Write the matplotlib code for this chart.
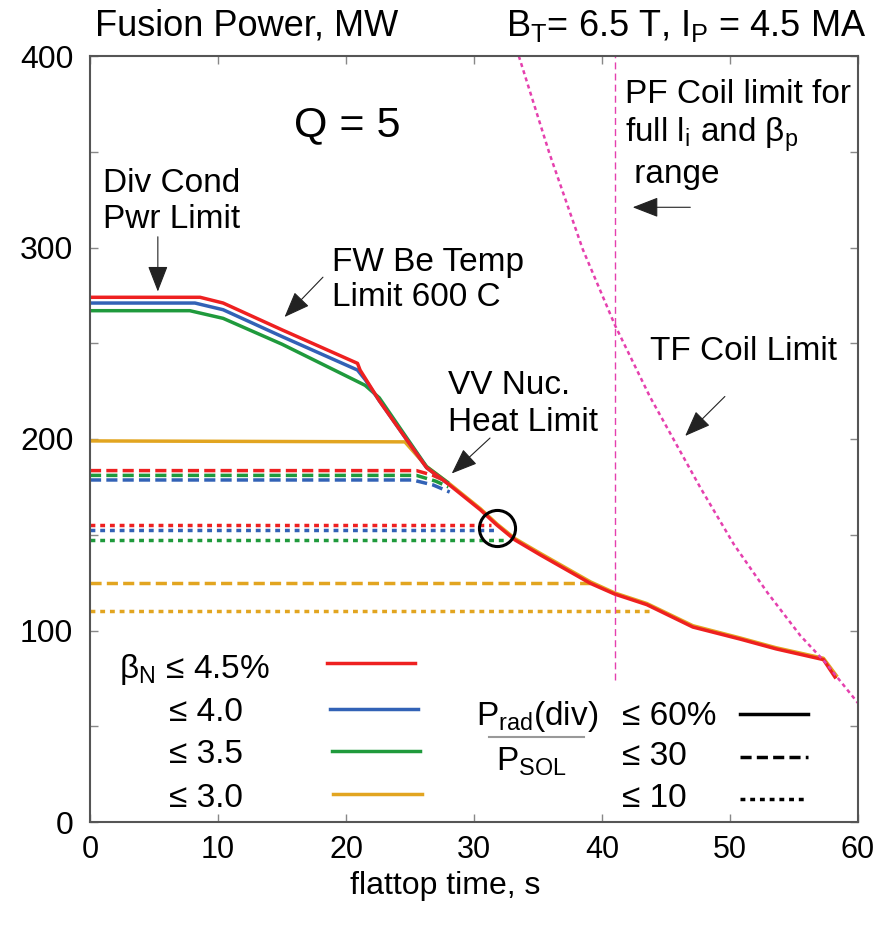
import matplotlib
matplotlib.use('Agg')
import matplotlib.pyplot as plt
from matplotlib import font_manager as fm
from matplotlib.ticker import MultipleLocator

names = {f.name for f in fm.fontManager.ttflist}
BASE = 'Liberation Sans'
NARROW = 'Liberation Sans Narrow' if 'Liberation Sans Narrow' in names else BASE

plt.rcParams['font.family'] = [BASE, 'DejaVu Sans']
plt.rcParams['mathtext.fontset'] = 'custom'
plt.rcParams['mathtext.rm'] = BASE
plt.rcParams['mathtext.it'] = BASE + ':italic'
plt.rcParams['mathtext.bf'] = BASE + ':bold'

# ---------------- data ----------------
# Prad/PSOL <= 60 % (solid)
red_solid_x = [0, 8.6, 10.4, 15, 20.9, 21.1, 22.6, 24.6, 26.3, 27.9, 30.5, 31.8, 33.2, 35.2, 39.1, 41.0, 43.5, 47.1, 50.8, 53.6, 57.3, 58.2]
red_solid_y = [274, 274, 271, 257, 239.5, 236, 220, 201, 185, 177, 163, 155, 147.3, 139.4, 124.6, 119, 113.5, 101.8, 95.5, 90.4, 84.8, 75.7]
blue_solid_x = [0, 8.2, 10.4, 15, 20.9, 21.5, 22.6, 24.6, 26.3, 27.9]
blue_solid_y = [271, 271, 267.5, 253.5, 236, 231, 220, 201, 185, 177]
green_solid_x = [0, 7.8, 10.4, 15, 20.9, 21.5, 22.6, 24.6, 26.3, 27.9]
green_solid_y = [267, 267, 263, 249.5, 230, 228, 221.5, 202, 185.5, 177.5]
orange_solid_x = [0, 24.6, 26.3, 27.9, 30.5, 31.8, 33.2, 35.2, 39.1, 41.0, 43.5, 47.1, 50.8, 53.6, 57.3, 58.3]
orange_solid_y = [199, 198.5, 185.6, 177.6, 163.6, 155.6, 148, 140.2, 125.4, 119.6, 114.1, 102.5, 96.1, 91.0, 85.5, 76.5]
# Prad/PSOL <= 30 % (dashed)
red_dash_x = [0, 25.5, 26.8, 27.8]
red_dash_y = [183.5, 183.5, 181, 178]
green_dash_x = [0, 25.5, 27.0, 28.0]
green_dash_y = [181, 181, 178, 175]
blue_dash_x = [0, 25.2, 26.8, 28.1]
blue_dash_y = [178.6, 178.6, 176, 172.3]
orange_dash_x = [0, 39.1]
orange_dash_y = [124.8, 124.8]
# Prad/PSOL <= 10 % (dotted)
red_dot_x = [0, 31.3]
red_dot_y = [155, 155]
blue_dot_x = [0, 31.8]
blue_dot_y = [152.5, 152.5]
green_dot_x = [0, 32.6]
green_dot_y = [147.3, 147.3]
orange_dot_x = [0, 44.0]
orange_dot_y = [110.2, 110.2]
# limits
tf_x = [33.5, 35.9, 38.5, 41.0, 43.75, 47.7, 50.3, 52.9, 55.5, 57.4, 60.0]
tf_y = [400, 349, 299, 259.6, 222, 174.4, 145, 120, 97.3, 83.7, 62.1]
pf_x = 41.0
pf_y = [74, 400]
circle_xy = (31.8, 153.5)

RED = '#ee2020'
BLUE = '#3262b6'
GREEN = '#1f9a3c'
ORANGE = '#e2a520'
MAG = '#e540ae'

fig = plt.figure(figsize=(8.88, 9.26), dpi=100)
ax = fig.add_axes([90/888, 1-822/926, 768/888, 766/926])

LW = 2.5
dash = (0, (3.2, 1.5))
dot = (0, (1.4, 1.4))

for xs, ys, c in [(orange_dot_x, orange_dot_y, ORANGE), (green_dot_x, green_dot_y, GREEN),
                  (blue_dot_x, blue_dot_y, BLUE), (red_dot_x, red_dot_y, RED)]:
    ax.plot(xs, ys, color=c, lw=LW, ls=dot)
for xs, ys, c in [(orange_dash_x, orange_dash_y, ORANGE), (blue_dash_x, blue_dash_y, BLUE),
                  (green_dash_x, green_dash_y, GREEN), (red_dash_x, red_dash_y, RED)]:
    ax.plot(xs, ys, color=c, lw=LW, ls=dash)
for xs, ys, c in [(orange_solid_x, orange_solid_y, ORANGE), (green_solid_x, green_solid_y, GREEN),
                  (blue_solid_x, blue_solid_y, BLUE), (red_solid_x, red_solid_y, RED)]:
    ax.plot(xs, ys, color=c, lw=LW, solid_joinstyle='round')

ax.plot(tf_x, tf_y, color=MAG, lw=1.8, ls=(0, (1.6, 1.4)), clip_on=True)
ax.plot([pf_x, pf_x], pf_y, color=MAG, lw=1.0, ls=(0, (5, 3)))
ax.plot([circle_xy[0]], [circle_xy[1]], 'o', ms=26, mfc='none', mec='k', mew=2.2)

ax.set_xlim(0, 60)
ax.set_ylim(0, 400)
ax.xaxis.set_major_locator(MultipleLocator(10))
ax.yaxis.set_major_locator(MultipleLocator(100))
ax.yaxis.set_minor_locator(MultipleLocator(50))
ax.tick_params(which='both', direction='in', top=True, right=True, length=6,
               width=1.0, color='#888888')
ax.tick_params(axis='y', labelsize=23, pad=12)
ax.tick_params(axis='x', labelsize=22, pad=9)
for lab in ax.get_xticklabels():
    lab.set_family([NARROW, 'DejaVu Sans'])
for s in ax.spines.values():
    s.set_color('#555555')
    s.set_linewidth(1.5)

# header texts
fig.text(95/888, 1-26/926, 'Fusion Power, MW', fontsize=26, family=[NARROW, 'DejaVu Sans'],
         ha='left', va='center')
fig.text(866/888, 1-26/926, r'B$_{\mathrm{T}}$= 6.5 T, I$_{\mathrm{P}}$ = 4.5 MA', fontsize=26,
         family=[NARROW, 'DejaVu Sans'], ha='right', va='center')
fig.text(445/888, 1-886/926, 'flattop time, s', fontsize=23, family=[NARROW, 'DejaVu Sans'],
         ha='center', va='center')

ax.text(20.1, 364, 'Q = 5', fontsize=31, ha='center', va='center')

FS = 24
ax.text(1.0, 324, 'Div Cond\nPwr Limit', fontsize=FS, ha='left', va='center', linespacing=1.2)
ax.text(18.9, 283, 'FW Be Temp\nLimit 600 C', fontsize=FS, ha='left', va='center', linespacing=1.2)
ax.text(28.0, 218.5, 'VV Nuc.\nHeat Limit', fontsize=FS, ha='left', va='center', linespacing=1.25)
ax.text(41.8, 359, 'PF Coil limit for\nfull l$_{\\mathrm{i}}$ and β$_{\\mathrm{p}}$\n range', fontsize=FS,
        ha='left', va='center', linespacing=1.22)
ax.text(43.75, 245.5, 'TF Coil Limit', fontsize=FS, ha='left', va='center')

ap = dict(arrowstyle='-|>,head_length=0.9,head_width=0.35', color='#222222', lw=0.8,
          mutation_scale=18, shrinkA=0, shrinkB=0)
for tip, tail in [((5.3, 277), (5.3, 305.6)), ((15.2, 263.7), (18.2, 284.5)),
                  ((28.26, 182), (31.25, 200.5)), ((42.4, 321), (46.9, 321)),
                  ((46.5, 201.6), (49.6, 222.2))]:
    ax.annotate('', xy=tip, xytext=tail, arrowprops=ap)

# legend (drawn by hand as in the figure)
ax.text(2.25, 79.4, 'β$_{\\mathrm{N}}$ ≤ 4.5%', fontsize=FS, ha='left', va='center')
ax.text(6.2, 57, '≤ 4.0', fontsize=FS, ha='left', va='center')
ax.text(6.2, 35, '≤ 3.5', fontsize=FS, ha='left', va='center')
ax.text(6.2, 12.5, '≤ 3.0', fontsize=FS, ha='left', va='center')
for y, c, x0 in [(83, RED, 18.5), (59, BLUE, 18.75), (37, GREEN, 18.9), (14.6, ORANGE, 19.0)]:
    ax.plot([x0, x0 + 6.9], [y, y], color=c, lw=LW)

ax.text(34.9, 55, 'P$_{\\mathrm{rad}}$(div)', fontsize=FS, ha='center', va='center')
ax.plot([31.2, 38.6], [44.4, 44.4], color='#999999', lw=1.5)
ax.text(34.5, 31.3, 'P$_{\\mathrm{SOL}}$', fontsize=FS, ha='center', va='center')
ax.text(41.6, 55, '≤ 60%', fontsize=FS, ha='left', va='center')
ax.text(41.6, 34, '≤ 30', fontsize=FS, ha='left', va='center')
ax.text(41.6, 12.5, '≤ 10', fontsize=FS, ha='left', va='center')
ax.plot([50.8, 56.1], [56.4, 56.4], color='k', lw=LW)
ax.plot([50.8, 56.1], [34, 34], color='k', lw=LW, ls=dash)
ax.plot([50.8, 56.1], [12, 12], color='k', lw=LW, ls=dot)

fig.savefig('out.png', dpi=100)
